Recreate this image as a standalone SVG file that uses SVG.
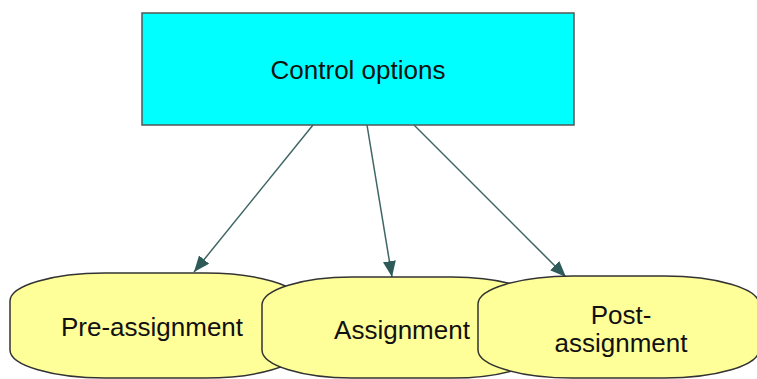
<svg xmlns="http://www.w3.org/2000/svg" width="757" height="379" viewBox="0 0 757 379">
  <style>
    .box { fill: #00FFFF; stroke: #555555; stroke-width: 1.5; }
    .term { fill: #FFFF99; stroke: #333333; stroke-width: 1.5; }
    .lbl { font-family: "Liberation Sans", Arial, sans-serif; font-size: 26px; fill: #111111; text-anchor: middle; }
    .edge { stroke: #3F6565; stroke-width: 1.5; fill: none; marker-end: url(#head); }
  </style>
  <defs>
    <marker id="head" viewBox="0 0 16 13" refX="16" refY="6.5" markerWidth="16" markerHeight="13" markerUnits="userSpaceOnUse" orient="auto">
      <path d="M0,0 L16,6.5 L0,13 Z" fill="#2F5A5A"/>
    </marker>
  </defs>

  <g id="control-options">
    <rect class="box" x="142" y="13" width="432" height="112"/>
    <text class="lbl" x="358" y="79">Control options</text>
  </g>

  <g id="connectors">
    <line class="edge" x1="313" y1="125" x2="194" y2="272"/>
    <line class="edge" x1="367" y1="125" x2="392" y2="277"/>
    <line class="edge" x1="414" y1="125" x2="566" y2="277"/>
  </g>

  <g id="pre-assignment">
    <rect class="term" x="10" y="273" width="290" height="105" rx="95" ry="28"/>
    <text class="lbl" x="152" y="336">Pre-assignment</text>
  </g>

  <g id="assignment">
    <rect class="term" x="262" y="277" width="280" height="101" rx="90" ry="28"/>
    <text class="lbl" x="402" y="339">Assignment</text>
  </g>

  <g id="post-assignment">
    <rect class="term" x="478" y="276" width="281" height="102" rx="95" ry="28"/>
    <text class="lbl" x="621" y="324">Post-</text>
    <text class="lbl" x="621" y="352">assignment</text>
  </g>
</svg>
